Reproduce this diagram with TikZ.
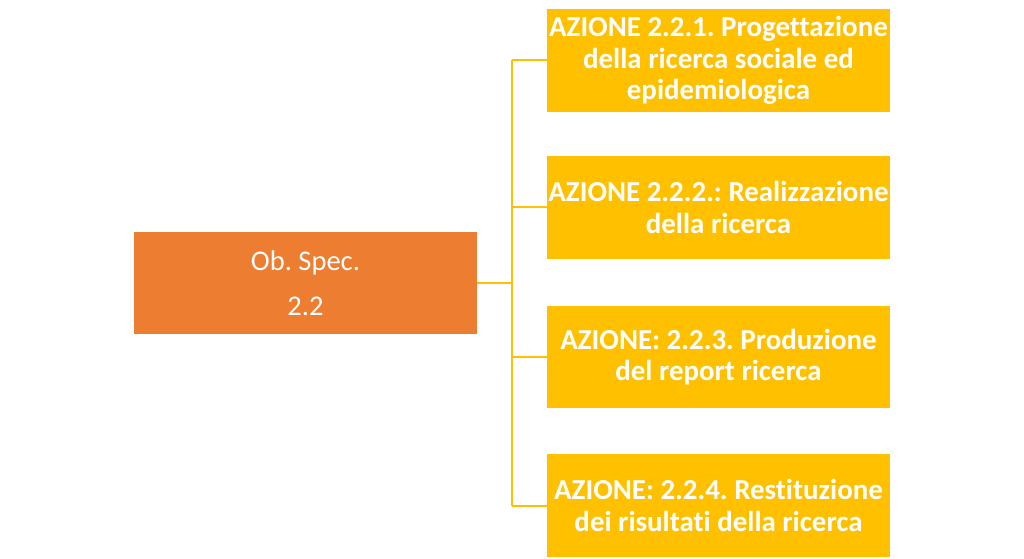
\documentclass[tikz,border=0pt]{standalone}
\usepackage{fontspec}
\setmainfont[Ligatures={NoCommon}]{Carlito}
\frenchspacing
\definecolor{obor}{HTML}{ED7D31}
\definecolor{azgold}{HTML}{FFC000}
\begin{document}
\begin{tikzpicture}[x=0.75pt,y=-0.75pt,
  azbox/.style={fill=azgold,draw=none,minimum width=257.25pt,minimum height=77pt,inner sep=0pt,
    text=white,font=\fontsize{21.7}{23.8}\selectfont\bfseries,align=center},
  obbox/.style={fill=obor,draw=none,minimum width=257.25pt,minimum height=76.5pt,inner sep=0pt,
    text=white,font=\fontsize{21.4}{24}\selectfont,align=center},
  conn/.style={draw=azgold,line width=1.5pt}]
\useasboundingbox (0,0) rectangle (1024,559);
\node[obbox] (L) at (305.5,283) {Ob. Spec.\\[9.5pt]2.2};
\node[azbox] (A1) at (718.5,60.5) {AZIONE 2.2.1. Progettazione\\della ricerca sociale ed\\epidemiologica};
\node[azbox] (A2) at (718.5,207.5) {AZIONE 2.2.2.: Realizzazione\\della ricerca};
\node[azbox] (A3) at (718.5,357) {AZIONE: 2.2.3. Produzione\\del report ricerca};
\node[azbox] (A4) at (718.5,505.5) {AZIONE: 2.2.4. Restituzione\\dei risultati della ricerca};
\coordinate (J) at (512,283);
\draw[conn] (L.east) -- (J);
\draw[conn] (J |- A1.west) -- (J |- A4.west);
\draw[conn] (J |- A1.west) -- (A1.west);
\draw[conn] (J |- A2.west) -- (A2.west);
\draw[conn] (J |- A3.west) -- (A3.west);
\draw[conn] (J |- A4.west) -- (A4.west);
\end{tikzpicture}
\end{document}
